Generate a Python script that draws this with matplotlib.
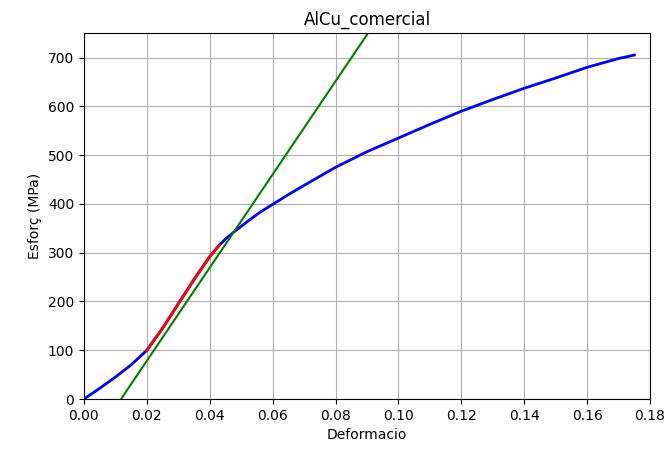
import numpy as np
import matplotlib
matplotlib.use("Agg")
import matplotlib.pyplot as plt

# stress-strain curve read from the tensile test
deformacio = [0.0, 0.005, 0.01, 0.015, 0.02, 0.025, 0.03, 0.035, 0.04, 0.043,
              0.045, 0.048, 0.052, 0.056, 0.06, 0.065, 0.07, 0.08, 0.09, 0.10,
              0.11, 0.12, 0.13, 0.14, 0.15, 0.16, 0.17, 0.175]
esforc = [0, 22, 45, 70, 100, 145, 195, 245, 292, 315,
          328, 344, 364, 383, 399, 419, 438, 475, 507, 535,
          563, 590, 614, 637, 658, 680, 698, 705]

# elastic zone used for the fit
zona_ini = 0.02
zona_fi = 0.043

# offset line (young modulus fit, shifted)
E = 9550.0
offset = 0.0118

x = np.array(deformacio)
y = np.array(esforc)
mask = (x >= zona_ini) & (x <= zona_fi)

xl = np.array([offset, 0.18])
yl = E * (xl - offset)

fig, ax = plt.subplots(figsize=(6.66, 4.54), dpi=100)
fig.subplots_adjust(left=0.126, right=0.976, bottom=0.121, top=0.927)

ax.plot(x, y, color='b', linewidth=2)
ax.plot(x[mask], y[mask], color='r', linewidth=2)
ax.plot(xl, yl, color='g', linewidth=1.5)

ax.set_xlim(0, 0.18)
ax.set_ylim(0, 750)
ax.set_xticks(np.arange(0, 0.19, 0.02))
ax.set_xlabel("Deformacio")
ax.set_ylabel("Esforç (MPa)")
ax.set_title("AlCu_comercial")
ax.grid(True)

plt.savefig("out.png")
